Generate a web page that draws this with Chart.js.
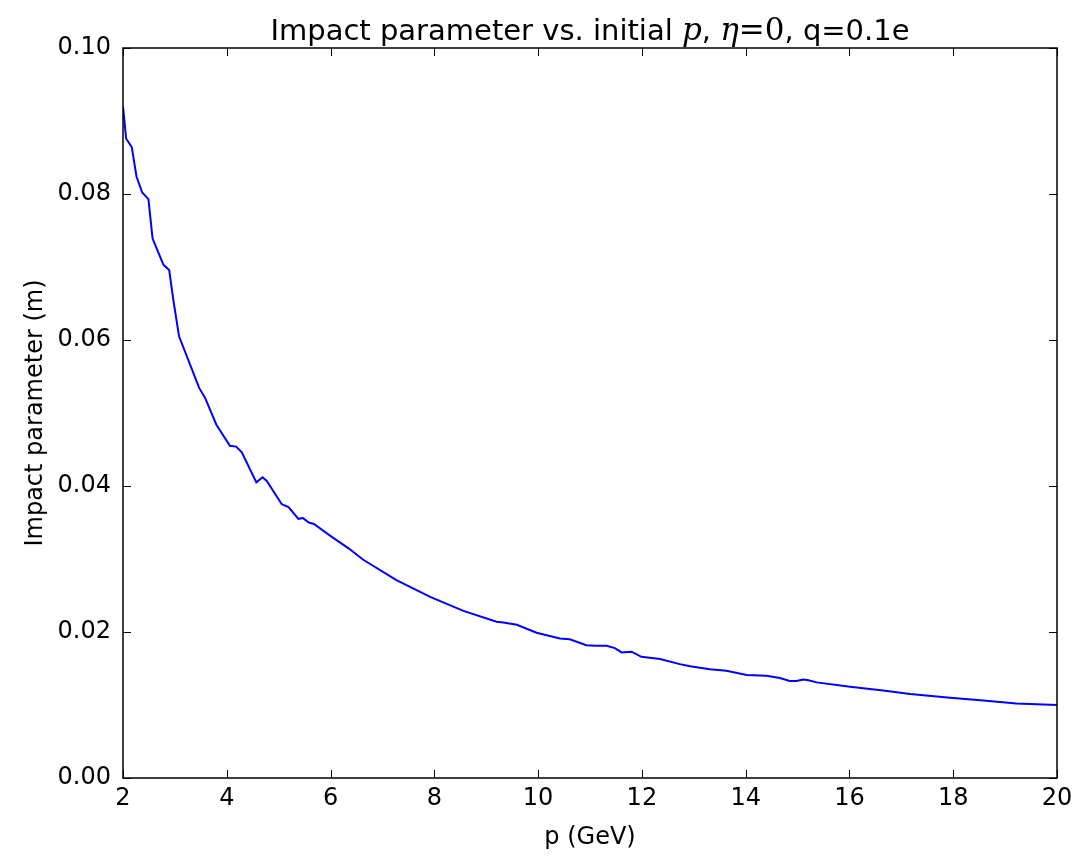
<!DOCTYPE html>
<html>
<head>
<meta charset="utf-8">
<script src="https://cdn.jsdelivr.net/npm/chart.js@4"></script>
<style>
  body { margin: 0; background: #fff; }
  #wrap { width: 1080px; height: 856px; position: relative; }
</style>
</head>
<body>
<div id="wrap"><canvas id="c"></canvas></div>
<script>
// data
var pVals = [2.0, 2.06, 2.17, 2.26, 2.37, 2.49, 2.57, 2.78, 2.89, 2.97, 3.08, 3.47, 3.58, 3.80, 4.06, 4.18, 4.29, 4.57, 4.69, 4.77,
  5.06, 5.19, 5.38, 5.47, 5.58, 5.68, 5.99, 6.34, 6.63, 7.27, 7.92, 8.56, 9.20, 9.33, 9.59, 9.97, 10.42, 10.61, 10.93, 11.12,
  11.32, 11.48, 11.61, 11.80, 11.99, 12.35, 12.73, 12.93, 13.31, 13.63, 14.02, 14.40, 14.66, 14.85, 14.98, 15.11, 15.21, 15.37,
  16.01, 16.65, 17.17, 17.94, 18.58, 19.22, 20.0];
var impactVals = [0.0920, 0.0876, 0.0864, 0.0824, 0.0802, 0.0793, 0.0739, 0.0703, 0.0696, 0.0655, 0.0605, 0.0534, 0.0521, 0.0484, 0.0455, 0.0454, 0.0446, 0.0405, 0.0412, 0.0407,
  0.0375, 0.0371, 0.0355, 0.0356, 0.0350, 0.0348, 0.0332, 0.0315, 0.0299, 0.0271, 0.0248, 0.0229, 0.0214, 0.0213, 0.0210, 0.0199, 0.0191, 0.0190, 0.0182, 0.0181,
  0.0181, 0.0178, 0.0172, 0.0173, 0.0166, 0.0163, 0.0156, 0.0153, 0.0149, 0.0147, 0.0141, 0.0140, 0.0137, 0.0133, 0.0133, 0.0135, 0.0134, 0.0131,
  0.0125, 0.0120, 0.0115, 0.0110, 0.0106, 0.0102, 0.0100];
var xTicks = [2, 4, 6, 8, 10, 12, 14, 16, 18, 20];
var yTicks = [0.00, 0.02, 0.04, 0.06, 0.08, 0.10];

var font = "'DejaVu Sans', sans-serif";

var points = [];
for (var i = 0; i < pVals.length; i++) {
  points.push({ x: pVals[i], y: impactVals[i] });
}

// frame, inward ticks on all four sides, and the title with italic math bits
var mplFrame = {
  id: 'mplFrame',
  afterDraw: function(chart) {
    var c = chart.ctx, a = chart.chartArea;
    var xs = chart.scales.x, ys = chart.scales.y;
    c.save();
    c.strokeStyle = '#000';
    c.lineWidth = 1.5;
    c.strokeRect(a.left, a.top, a.right - a.left, a.bottom - a.top);
    c.lineWidth = 1;
    c.beginPath();
    xTicks.forEach(function(v) {
      var px = Math.round(xs.getPixelForValue(v)) + 0.5;
      c.moveTo(px, a.bottom); c.lineTo(px, a.bottom - 8);
      c.moveTo(px, a.top); c.lineTo(px, a.top + 8);
    });
    yTicks.forEach(function(v) {
      var py = Math.round(ys.getPixelForValue(v)) + 0.5;
      c.moveTo(a.left, py); c.lineTo(a.left + 8, py);
      c.moveTo(a.right, py); c.lineTo(a.right - 8, py);
    });
    c.stroke();

    var parts = [
      ['Impact parameter vs. initial ', "29px " + font],
      ['p', "italic 31px 'DejaVu Serif', serif"],
      [', ', "29px " + font],
      ['\u03b7', "italic 31px 'DejaVu Serif', serif"],
      ['=0', "31px 'DejaVu Serif', serif"],
      [', q=0.1e', "29px " + font]
    ];
    var total = 0;
    parts.forEach(function(p) { c.font = p[1]; total += c.measureText(p[0]).width; });
    var x = (a.left + a.right) / 2 - total / 2;
    c.fillStyle = '#000';
    c.textBaseline = 'alphabetic';
    parts.forEach(function(p) {
      c.font = p[1];
      c.fillText(p[0], x, 40);
      x += c.measureText(p[0]).width;
    });
    c.restore();
  }
};

new Chart(document.getElementById('c'), {
  type: 'line',
  data: {
    datasets: [{
      data: points,
      borderColor: '#0000ff',
      borderWidth: 2,
      pointRadius: 0,
      fill: false,
      tension: 0
    }]
  },
  options: {
    responsive: true,
    maintainAspectRatio: false,
    animation: false,
    layout: { padding: { top: 48, right: 23, left: 0, bottom: 0 } },
    plugins: { legend: { display: false }, tooltip: { enabled: false } },
    scales: {
      x: {
        type: 'linear',
        min: 2, max: 20,
        grid: { display: false, drawTicks: false },
        border: { display: false },
        afterBuildTicks: function(s) { s.ticks = xTicks.map(function(v) { return { value: v }; }); },
        afterFit: function(s) { s.height = 78; },
        ticks: { color: '#000', font: { family: font, size: 24 }, padding: 6, maxRotation: 0 },
        title: { display: true, text: 'p (GeV)', color: '#000', font: { family: font, size: 24 }, padding: { top: 0, bottom: 4 } }
      },
      y: {
        min: 0, max: 0.1,
        grid: { display: false, drawTicks: false },
        border: { display: false },
        afterBuildTicks: function(s) { s.ticks = yTicks.map(function(v) { return { value: v }; }); },
        afterFit: function(s) { s.width = 123; },
        ticks: {
          color: '#000', font: { family: font, size: 24 }, padding: 12,
          callback: function(v) { return v.toFixed(2); }
        },
        title: { display: true, text: 'Impact parameter (m)', color: '#000', font: { family: font, size: 24 }, padding: { top: 21, bottom: 0 } }
      }
    }
  },
  plugins: [mplFrame]
});
</script>
</body>
</html>
